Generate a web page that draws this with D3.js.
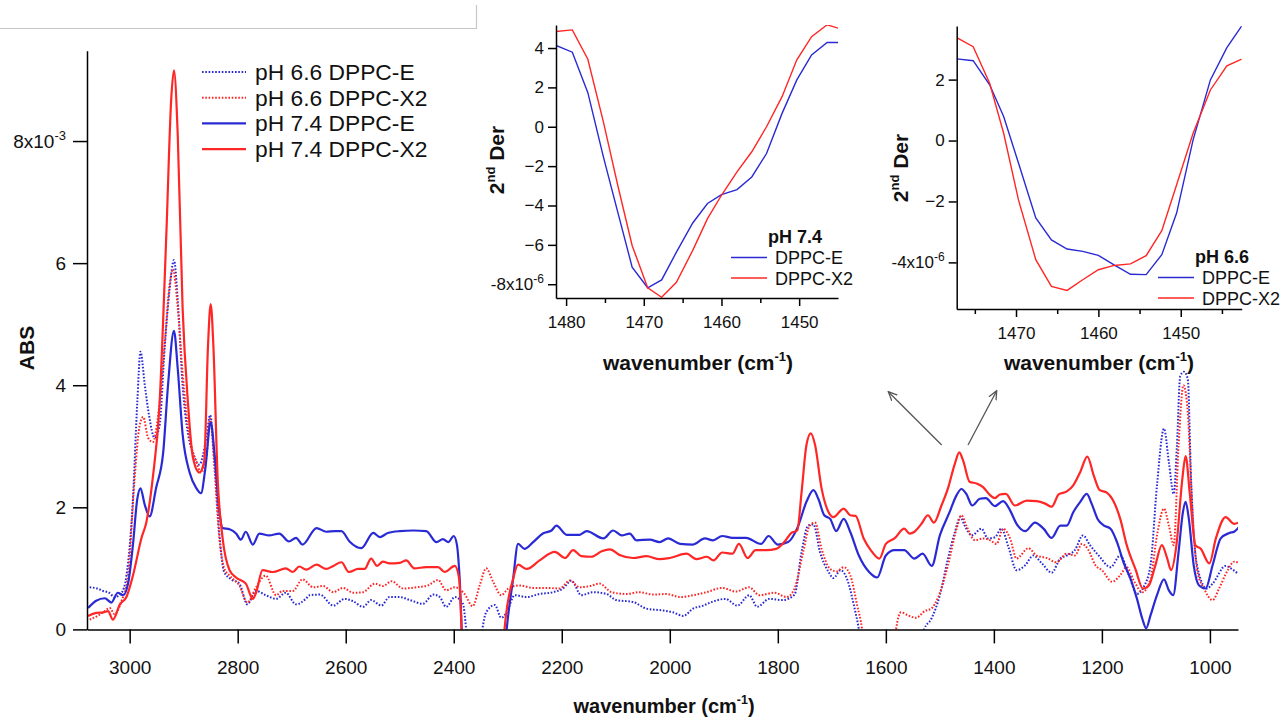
<!DOCTYPE html>
<html>
<head>
<meta charset="utf-8">
<script src="https://cdn.jsdelivr.net/npm/d3@7"></script>
<style>
  body { margin: 0; background: #fff; }
  svg { display: block; font-family: "Liberation Sans", Arial, sans-serif; }
</style>
</head>
<body>
<svg id="chart" width="1287" height="719"></svg>
<script>
// ---- main spectrum, [wavenumber, ABS x1e-3] ----
const e66 = [[3074,0.69],[3060,0.67],[3049,0.63],[3038,0.6],[3028,0.53],[3015,0.6],[3006,0.88],[2994,2.13],[2986,3.7],[2980,4.55],[2972,4.0],[2964,3.5],[2954,3.14],[2945,3.32],[2935,4.64],[2926,5.58],[2918,6.05],[2911,5.4],[2902,4.0],[2892,3.2],[2883,2.89],[2871,2.7],[2858,3.14],[2851,3.51],[2843,2.76],[2834,1.57],[2825,0.94],[2812,0.82],[2797,0.75],[2782,0.41],[2766,0.63],[2748,0.56],[2729,0.5],[2711,0.6],[2692,0.41],[2674,0.5],[2667,0.56],[2648,0.57],[2623,0.39],[2602,0.5],[2586,0.46],[2568,0.37],[2553,0.48],[2534,0.39],[2519,0.53],[2500,0.53],[2481,0.48],[2457,0.42],[2438,0.57],[2426,0.53],[2414,0.37],[2398,0.53],[2383,0.42],[2373,-0.2],[2350,-0.2],[2347,0],[2340,0.28],[2324,0.4],[2312,0.19],[2302,0.28],[2287,0.56],[2265,0.53],[2241,0.58],[2216,0.61],[2198,0.67],[2182,0.8],[2164,0.56],[2142,0.61],[2117,0.58],[2099,0.48],[2068,0.45],[2043,0.34],[2012,0.31],[1994,0.28],[1975,0.22],[1957,0.34],[1938,0.39],[1922,0.45],[1897,0.5],[1875,0.39],[1853,0.56],[1838,0.37],[1816,0.5],[1791,0.48],[1769,0.57],[1756,1.27],[1744,1.7],[1734,1.72],[1722,1.27],[1706,0.94],[1697,0.84],[1684,0.97],[1672,0.83],[1659,0.39],[1650,0],[1645,-0.3],[1533,-0.3],[1529,0],[1516,0.17],[1500,0.56],[1485,1.16],[1472,1.6],[1462,1.84],[1454,1.7],[1441,1.54],[1423,1.65],[1411,1.49],[1398,1.51],[1386,1.65],[1373,1.35],[1358,0.97],[1342,1.05],[1327,1.21],[1311,1.08],[1293,0.93],[1277,1.16],[1265,1.21],[1250,1.3],[1235,1.54],[1222,1.38],[1206,1.21],[1184,1.02],[1166,1.21],[1150,0.89],[1135,0.58],[1123,0.69],[1110,1.05],[1098,2.36],[1085,3.29],[1076,2.74],[1067,2.22],[1061,3.02],[1055,4.15],[1048,4.22],[1041,4.1],[1035,2.5],[1025,1.1],[1006,0.67],[995,0.75],[971,1.04],[958,0.98],[946,0.9]];

const x66 = [[3074,0.16],[3060,0.22],[3049,0.28],[3037,0.35],[3028,0.25],[3015,0.47],[3003,0.88],[2991,2.45],[2982,3.32],[2975,3.48],[2966,3.14],[2957,3.07],[2948,3.45],[2935,4.7],[2926,5.65],[2920,5.9],[2911,5.27],[2902,4.2],[2889,3.14],[2877,2.76],[2868,2.57],[2858,2.82],[2851,3.45],[2843,2.63],[2834,1.5],[2825,1.0],[2815,0.88],[2797,0.72],[2782,0.44],[2766,0.69],[2748,0.88],[2729,0.56],[2717,0.63],[2698,0.63],[2680,0.82],[2660,0.69],[2642,0.71],[2623,0.61],[2605,0.68],[2586,0.6],[2568,0.61],[2546,0.75],[2531,0.71],[2515,0.79],[2494,0.67],[2469,0.69],[2448,0.72],[2429,0.81],[2414,0.64],[2398,0.69],[2380,0.58],[2365,0.38],[2352,0.72],[2340,1.0],[2327,0.78],[2312,0.56],[2299,0.67],[2278,0.72],[2253,0.68],[2228,0.68],[2204,0.67],[2185,0.8],[2167,0.69],[2148,0.71],[2130,0.75],[2108,0.61],[2080,0.58],[2056,0.61],[2031,0.57],[2006,0.58],[1981,0.53],[1957,0.56],[1932,0.61],[1903,0.68],[1878,0.62],[1853,0.69],[1834,0.56],[1806,0.6],[1784,0.53],[1769,0.67],[1753,1.27],[1741,1.7],[1731,1.75],[1719,1.32],[1703,0.99],[1691,0.95],[1678,1.02],[1666,0.89],[1653,0.39],[1644,0],[1640,-0.3],[1585,-0.3],[1581,0],[1572,0.28],[1559,0.23],[1544,0.19],[1528,0.3],[1516,0.34],[1503,0.53],[1485,1.05],[1469,1.65],[1460,1.87],[1451,1.7],[1435,1.46],[1420,1.49],[1407,1.46],[1395,1.4],[1383,1.65],[1370,1.49],[1358,1.16],[1336,1.33],[1321,1.21],[1302,1.17],[1284,1.1],[1265,1.24],[1250,1.21],[1237,1.4],[1225,1.3],[1212,1.05],[1200,0.97],[1181,0.78],[1166,0.89],[1154,1.02],[1141,0.8],[1125,0.61],[1110,0.83],[1098,1.54],[1085,1.98],[1076,1.7],[1067,1.38],[1058,3.02],[1049,4.0],[1041,3.56],[1033,2.03],[1023,0.94],[1011,0.67],[995,0.48],[983,0.67],[967,0.97],[955,1.11],[946,1.09]];

const e74 = [[3077,0.35],[3062,0.47],[3046,0.51],[3034,0.44],[3022,0.6],[3012,0.56],[3003,0.75],[2994,1.38],[2986,2.13],[2980,2.31],[2972,2.04],[2963,1.85],[2951,2.32],[2938,2.89],[2929,4.0],[2918,4.89],[2911,4.27],[2902,3.2],[2889,2.57],[2877,2.32],[2868,2.23],[2860,2.63],[2850,3.39],[2843,2.89],[2834,1.94],[2828,1.66],[2815,1.64],[2803,1.57],[2794,1.47],[2785,1.6],[2772,1.39],[2760,1.57],[2742,1.54],[2723,1.57],[2705,1.44],[2692,1.5],[2680,1.39],[2654,1.66],[2636,1.6],[2620,1.61],[2608,1.61],[2593,1.44],[2571,1.33],[2549,1.58],[2537,1.51],[2522,1.58],[2500,1.61],[2475,1.62],[2451,1.61],[2432,1.43],[2420,1.48],[2410,1.43],[2400,1.53],[2394,1.38],[2389,0.83],[2383,-0.3],[2305,-0.3],[2302,0],[2290,0.83],[2281,1.4],[2269,1.32],[2253,1.43],[2235,1.57],[2219,1.62],[2210,1.7],[2191,1.55],[2167,1.55],[2154,1.61],[2123,1.49],[2105,1.62],[2089,1.54],[2074,1.57],[2062,1.46],[2037,1.47],[2019,1.43],[2003,1.49],[1981,1.4],[1957,1.39],[1935,1.49],[1920,1.46],[1903,1.53],[1884,1.5],[1859,1.5],[1831,1.4],[1817,1.53],[1800,1.39],[1781,1.43],[1763,1.68],[1747,2.09],[1734,2.28],[1725,2.14],[1714,1.87],[1703,1.81],[1692,1.61],[1678,1.81],[1666,1.6],[1650,1.21],[1631,0.94],[1616,0.85],[1600,1.21],[1584,1.3],[1566,1.3],[1547,1.16],[1532,1.24],[1515,1.04],[1500,1.54],[1482,1.92],[1469,2.2],[1460,2.3],[1451,2.22],[1440,2.03],[1426,2.14],[1415,2.15],[1398,2.02],[1383,2.1],[1370,1.95],[1358,1.73],[1342,1.61],[1324,1.75],[1308,1.65],[1293,1.5],[1277,1.7],[1265,1.7],[1253,1.92],[1240,2.09],[1228,2.22],[1219,2.06],[1208,1.81],[1196,1.7],[1184,1.65],[1172,1.43],[1160,1.1],[1147,0.83],[1135,0.5],[1125,0.17],[1118,0.02],[1110,0.23],[1098,0.56],[1085,0.82],[1076,0.64],[1068,0.56],[1058,1.27],[1050,1.92],[1045,2.09],[1039,1.81],[1030,1.05],[1020,0.72],[1008,0.67],[995,1.05],[980,1.49],[964,1.58],[955,1.6],[946,1.68]];

const x74 = [[3077,0.22],[3062,0.27],[3049,0.28],[3040,0.3],[3031,0.16],[3018,0.41],[3006,0.53],[2994,0.88],[2978,1.5],[2969,1.76],[2957,2.5],[2945,3.64],[2932,6.5],[2923,8.7],[2918,9.16],[2911,8.1],[2902,5.27],[2892,3.7],[2883,2.82],[2871,2.57],[2862,2.76],[2855,4.64],[2850,5.33],[2845,4.64],[2837,2.45],[2828,1.5],[2815,0.97],[2803,0.85],[2785,0.75],[2772,0.5],[2766,0.6],[2754,0.97],[2735,0.94],[2711,1.0],[2698,0.94],[2686,1.03],[2673,0.98],[2654,1.06],[2636,0.99],[2623,1.04],[2608,1.1],[2594,0.94],[2577,0.99],[2565,0.99],[2553,1.16],[2542,1.04],[2531,1.11],[2519,1.08],[2500,1.09],[2488,1.13],[2473,1.0],[2451,1.02],[2429,1.02],[2417,0.94],[2398,1.04],[2390,0.83],[2383,-0.3],[2308,-0.3],[2306,0],[2290,0.83],[2281,1.06],[2265,0.99],[2241,1.13],[2213,1.27],[2194,1.17],[2179,1.3],[2164,1.2],[2145,1.19],[2126,1.28],[2111,1.31],[2093,1.22],[2068,1.17],[2043,1.2],[2019,1.15],[2000,1.17],[1969,1.24],[1951,1.15],[1931,1.19],[1919,1.13],[1903,1.26],[1884,1.24],[1872,1.4],[1856,1.17],[1841,1.3],[1822,1.3],[1803,1.32],[1788,1.43],[1775,1.58],[1764,1.62],[1756,2.25],[1747,3.02],[1739,3.21],[1731,3.02],[1719,2.31],[1706,1.92],[1697,1.84],[1678,1.98],[1666,1.87],[1656,1.86],[1641,1.49],[1628,1.3],[1612,1.16],[1600,1.4],[1584,1.49],[1566,1.65],[1556,1.57],[1547,1.6],[1534,1.73],[1522,1.87],[1511,1.75],[1497,2.03],[1485,2.31],[1472,2.72],[1464,2.9],[1457,2.77],[1445,2.42],[1432,2.39],[1420,2.33],[1407,2.2],[1398,2.15],[1389,2.21],[1378,2.22],[1361,2.03],[1339,2.11],[1321,2.1],[1305,2.06],[1293,2.01],[1280,2.21],[1265,2.26],[1253,2.36],[1240,2.58],[1227,2.83],[1215,2.52],[1204,2.28],[1191,2.24],[1178,2.09],[1166,1.81],[1154,1.38],[1138,0.99],[1124,0.67],[1113,0.72],[1101,1.05],[1089,1.38],[1079,1.16],[1072,0.97],[1062,1.38],[1051,2.47],[1045,2.84],[1037,2.2],[1027,1.38],[1017,1.32],[1001,1.08],[989,1.49],[971,1.84],[955,1.73],[946,1.75]];

const mainXTicks = [3000, 2800, 2600, 2400, 2200, 2000, 1800, 1600, 1400, 1200, 1000];
const mainYTicks = [0, 2, 4, 6, 8];
const legendNames = ["pH 6.6 DPPC-E", "pH 6.6 DPPC-X2", "pH 7.4 DPPC-E", "pH 7.4 DPPC-X2"];

// ---- inset pH 7.4, 2nd derivative x1e-6 ----
const wn74 = [1481.3,1479.2,1477.2,1475.2,1473.3,1471.5,1469.5,1467.7,1465.8,1463.7,1461.8,1460.0,1458.0,1456.1,1454.2,1452.2,1450.3,1448.4,1446.4,1444.9];
const der74E = [4.13,3.79,1.73,-1.53,-4.41,-7.13,-8.18,-7.78,-6.37,-4.89,-3.9,-3.45,-3.19,-2.55,-1.36,0.68,2.38,3.65,4.28,4.28];
const der74X = [4.84,4.92,3.43,0.25,-3.06,-6.03,-8.18,-8.66,-7.9,-6.28,-4.67,-3.48,-2.29,-1.27,0.0,1.53,3.4,4.58,5.18,5.0];

// ---- inset pH 6.6 ----
const wn66 = [1477.2,1475.2,1473.2,1471.5,1469.7,1467.6,1465.7,1463.8,1461.9,1460.0,1458.1,1456.1,1454.2,1452.3,1450.5,1448.5,1446.4,1444.4,1442.6];
const der66E = [2.68,2.62,1.83,0.79,-0.74,-2.54,-3.26,-3.56,-3.64,-3.77,-4.08,-4.39,-4.4,-3.75,-2.38,0.02,1.99,3.05,3.76];
const der66X = [3.38,3.08,1.88,0.24,-1.95,-3.91,-4.79,-4.92,-4.57,-4.24,-4.1,-4.05,-3.78,-2.96,-1.45,0.24,1.66,2.45,2.67];

const BLUE = "#2a2ad4";
const RED = "#ff2626";
const DOT = "1.6,1.7";

const svg = d3.select("#chart");

// screenshot frame remnant at top-left
svg.append("path").attr("d", "M0,28.5H476.5V5").attr("fill", "none").attr("stroke", "#c6c6c6").attr("stroke-width", 1.2);

// ================= main plot =================
const x = d3.scaleLinear().domain([3079, 948]).range([87, 1238]);
const y = d3.scaleLinear().domain([0, 9.48]).range([629.4, 50.7]);

svg.append("clipPath").attr("id", "mainclip")
  .append("rect").attr("x", 87).attr("y", 40).attr("width", 1151).attr("height", 589.4);

const line = d3.line().x(d => x(d[0])).y(d => y(d[1])).curve(d3.curveMonotoneX);

const series = [
  { data: e66, color: BLUE, dash: DOT },
  { data: x66, color: RED, dash: DOT },
  { data: e74, color: BLUE, dash: null },
  { data: x74, color: RED, dash: null }
];

const plot = svg.append("g").attr("clip-path", "url(#mainclip)");
series.forEach(s => {
  plot.append("path").datum(s.data)
    .attr("d", line)
    .attr("fill", "none")
    .attr("stroke", s.color)
    .attr("stroke-width", s.dash ? 2 : 2.2)
    .attr("stroke-dasharray", s.dash)
    .attr("stroke-linejoin", "round");
});

function styleAxis(g, size) {
  g.select(".domain").attr("stroke", "#000").attr("stroke-width", 1.5);
  g.selectAll(".tick line").attr("stroke", "#000").attr("stroke-width", 1.5);
  g.selectAll("text").attr("fill", "#111").attr("font-size", size)
    .attr("font-family", "Liberation Sans, Arial, sans-serif");
}

const xAxisG = svg.append("g").attr("transform", "translate(0,629.4)")
  .call(d3.axisBottom(x).tickValues(mainXTicks).tickSize(14).tickSizeOuter(0).tickPadding(17).tickFormat(d3.format("d")));
styleAxis(xAxisG, 19);

const yAxisG = svg.append("g").attr("transform", "translate(87,0)")
  .call(d3.axisLeft(y).tickValues(mainYTicks).tickSize(14).tickSizeOuter(0).tickPadding(7));
styleAxis(yAxisG, 19);
yAxisG.selectAll(".tick text").filter(d => d === 8).each(function () {
  const t = d3.select(this);
  t.text("8x10");
  t.append("tspan").attr("font-size", 13).attr("dy", "-0.55em").text("-3");
});

// axis titles
svg.append("text").attr("transform", "translate(34,348) rotate(-90)")
  .attr("text-anchor", "middle").attr("font-weight", "bold").attr("font-size", 21).attr("fill", "#111")
  .text("ABS");

function wavenumberTitle(cx, by, size) {
  const t = svg.append("text").attr("x", cx).attr("y", by).attr("text-anchor", "middle")
    .attr("font-weight", "bold").attr("font-size", size).attr("fill", "#111");
  t.append("tspan").text("wavenumber (cm");
  t.append("tspan").attr("font-size", size * 0.62).attr("dy", -size * 0.45).text("-1");
  t.append("tspan").attr("dy", size * 0.45).text(")");
}
wavenumberTitle(664, 713, 20);

// legend
const legend = svg.append("g");
series.forEach((s, i) => {
  const ly = 72 + i * 25.7;
  legend.append("line").attr("x1", 202).attr("x2", 246).attr("y1", ly).attr("y2", ly)
    .attr("stroke", s.color).attr("stroke-width", s.dash ? 2 : 2.2).attr("stroke-dasharray", s.dash);
  legend.append("text").attr("x", 255).attr("y", ly + 8).attr("font-size", 22.8).attr("fill", "#111")
    .text(legendNames[i]);
});

// ================= insets =================
function drawInset(cfg) {
  const ix = d3.scaleLinear().domain(cfg.xDomain).range([cfg.left, cfg.right]);
  const iy = d3.scaleLinear().domain(cfg.yDomain).range([cfg.bottom, cfg.top]);
  const id = "clip" + cfg.name;
  svg.append("clipPath").attr("id", id).append("rect")
    .attr("x", cfg.left).attr("y", cfg.top).attr("width", cfg.right - cfg.left).attr("height", cfg.bottom - cfg.top);
  const g = svg.append("g").attr("clip-path", `url(#${id})`);
  const l = d3.line().x(d => ix(d[0])).y(d => iy(d[1]));
  [[cfg.e, BLUE], [cfg.xs, RED]].forEach(([vals, col]) => {
    g.append("path").datum(cfg.wn.map((w, i) => [w, vals[i]]))
      .attr("d", l).attr("fill", "none").attr("stroke", col).attr("stroke-width", 1.4);
  });

  const xa = svg.append("g").attr("transform", `translate(0,${cfg.bottom})`)
    .call(d3.axisBottom(ix).tickValues(cfg.xMajor).tickSize(8).tickSizeOuter(0).tickPadding(cfg.xPad).tickFormat(d3.format("d")));
  styleAxis(xa, 17);
  const xm = svg.append("g").attr("transform", `translate(0,${cfg.bottom})`)
    .call(d3.axisBottom(ix).tickValues(cfg.xMinor).tickSize(5).tickSizeOuter(0).tickFormat(""));
  styleAxis(xm, 17);
  xm.select(".domain").remove();

  const ya = svg.append("g").attr("transform", `translate(${cfg.left},0)`)
    .call(d3.axisLeft(iy).tickValues(cfg.yTicks).tickSize(8).tickSizeOuter(0).tickPadding(4));
  styleAxis(ya, 17);
  ya.selectAll(".tick text").filter(d => d === cfg.yTicks[0]).each(function () {
    const t = d3.select(this);
    t.text(cfg.yTicks[0] + "x10");
    t.append("tspan").attr("font-size", 12).attr("dy", "-0.6em").text("-6");
  });

  wavenumberTitle(cfg.titleX, 370, 21);

  const yt = svg.append("text").attr("transform", `translate(${cfg.yTitleX},${cfg.yTitleY}) rotate(-90)`)
    .attr("text-anchor", "middle").attr("font-weight", "bold").attr("font-size", 21).attr("fill", "#111");
  yt.append("tspan").text("2");
  yt.append("tspan").attr("font-size", 13).attr("dy", -9).text("nd");
  yt.append("tspan").attr("dy", 9).text(" Der");

  const lg = svg.append("g");
  lg.append("text").attr("x", cfg.legX + 37).attr("y", cfg.legY + 6).attr("font-weight", "bold")
    .attr("font-size", 18).attr("fill", "#111").text(cfg.label);
  ["DPPC-E", "DPPC-X2"].forEach((n, i) => {
    const ly = cfg.legY + 20.5 * (i + 1);
    lg.append("line").attr("x1", cfg.legX).attr("x2", cfg.legX + 36).attr("y1", ly).attr("y2", ly)
      .attr("stroke", i ? RED : BLUE).attr("stroke-width", 1.4);
    lg.append("text").attr("x", cfg.legX + 44).attr("y", ly + 6.5).attr("font-size", 18).attr("fill", "#111").text(n);
  });
}

drawInset({
  name: "a", label: "pH 7.4", wn: wn74, e: der74E, xs: der74X,
  xDomain: [1481.3, 1445], yDomain: [-8.7, 5.17],
  left: 556, right: 838, top: 25, bottom: 298,
  xMajor: [1480, 1470, 1460, 1450], xMinor: [1475, 1465, 1455],
  yTicks: [-8, -6, -4, -2, 0, 2, 4], xPad: 10,
  titleX: 698, yTitleX: 504, yTitleY: 160, legX: 731, legY: 237
});

drawInset({
  name: "b", label: "pH 6.6", wn: wn66, e: der66E, xs: der66X,
  xDomain: [1477.2, 1442.6], yDomain: [-5.53, 3.76],
  left: 956.7, right: 1241.7, top: 26, bottom: 309,
  xMajor: [1470, 1460, 1450], xMinor: [1475, 1465, 1455, 1445],
  yTicks: [-4, -2, 0, 2], xPad: 10,
  titleX: 1099, yTitleX: 908, yTitleY: 168, legX: 1158, legY: 257
});

// ================= arrows =================
svg.append("defs").append("marker").attr("id", "arrow")
  .attr("viewBox", "0 0 10 10").attr("refX", 9).attr("refY", 5)
  .attr("markerWidth", 10).attr("markerHeight", 10).attr("markerUnits", "userSpaceOnUse")
  .attr("orient", "auto")
  .append("path").attr("d", "M0,1 L9,5 L0,9").attr("fill", "none").attr("stroke", "#555").attr("stroke-width", 1.3);

[[941.7, 445, 888.3, 391.7], [968, 445, 996.7, 390.7]].forEach(a => {
  svg.append("line").attr("x1", a[0]).attr("y1", a[1]).attr("x2", a[2]).attr("y2", a[3])
    .attr("stroke", "#555").attr("stroke-width", 1.3).attr("marker-end", "url(#arrow)");
});
</script>
</body>
</html>
